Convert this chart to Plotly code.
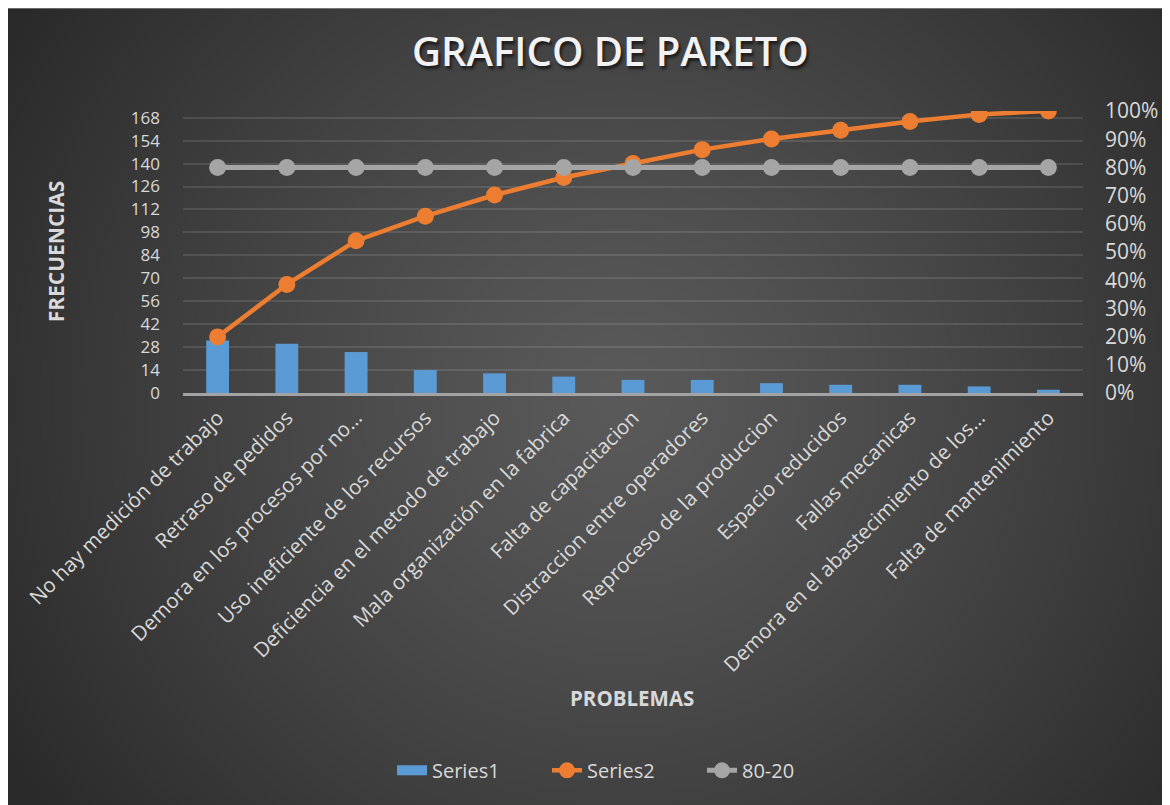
import base64, struct, zlib
import numpy as np
import plotly.graph_objects as go

# ---------------- data ----------------
categories = [
    "No hay medición de trabajo",
    "Retraso de pedidos",
    "Demora en los procesos por no…",
    "Uso ineficiente de los recursos",
    "Deficiencia en el metodo de trabajo",
    "Mala organización en la fabrica",
    "Falta de capacitacion",
    "Distraccion entre operadores",
    "Reproceso de la produccion",
    "Espacio reducidos",
    "Fallas mecanicas",
    "Demora en el abastecimiento de los…",
    "Falta de mantenimiento",
]
frequencies = [32, 30, 25, 14, 12, 10, 8, 8, 6, 5, 5, 4, 2]
cumulative_pct = [0.199, 0.385, 0.540, 0.627, 0.702, 0.764, 0.814, 0.863,
                  0.901, 0.932, 0.963, 0.988, 1.0]
line_80_20 = [0.8] * 13
left_ticks = [0, 14, 28, 42, 56, 70, 84, 98, 112, 126, 140, 154, 168]

# ---------------- geometry (reference pixel coords, page offset 8) ----------------
OFF = 8
W, H = 1170 - OFF, 805 - OFF
PL, PR, PT, PB = 183, 1083, 110.7, 392.7      # plot area in reference pixels
L = PL - OFF
R = W - (PR - OFF)
T = PT - OFF
B = H - (PB - OFF)
PW, PH = PR - PL, PB - PT


def px_x(p):
    return (p - PL) / PW


def px_y(p):
    return (PB - p) / PH


# ---------------- background gradient image ----------------
yy, xx = np.mgrid[0:H, 0:W].astype(float)
gx, gy = xx + OFF, yy + OFF
d = np.sqrt(((gx - 620) / 720) ** 2 + ((gy - 400) / 700) ** 2)
d = np.clip(d, 0, 1) ** 1.2
val = (90 - 48 * d).astype(np.uint8)


def make_png(arr):
    h, w = arr.shape
    raw = b"".join(b"\x00" + arr[i].tobytes() for i in range(h))

    def chunk(t, data):
        c = struct.pack(">I", len(data)) + t + data
        return c + struct.pack(">I", zlib.crc32(t + data) & 0xFFFFFFFF)

    return (b"\x89PNG\r\n\x1a\n"
            + chunk(b"IHDR", struct.pack(">IIBBBBB", w, h, 8, 0, 0, 0, 0))
            + chunk(b"IDAT", zlib.compress(raw, 9))
            + chunk(b"IEND", b""))


bg_uri = "data:image/png;base64," + base64.b64encode(make_png(val)).decode()

FONT = "Open Sans"
TXT = "#d9d9d9"
BLUE = "#5b9bd5"
ORANGE = "#ed7d31"
GRAY = "#a5a5a5"

fig = go.Figure()
fig.add_trace(go.Bar(
    x=categories, y=frequencies, name="Series1", showlegend=False,
    marker=dict(color=BLUE, line=dict(width=0)),
))
# legend stand-in for the bar series (wide rectangle swatch)
fig.add_trace(go.Scatter(
    x=[None], y=[None], name="Series1", mode="lines",
    line=dict(color=BLUE, width=15),
))
fig.add_trace(go.Scatter(
    x=categories, y=cumulative_pct, name="Series2", yaxis="y2",
    mode="lines+markers",
    line=dict(color=ORANGE, width=4.5),
    marker=dict(color=ORANGE, size=17),
))
fig.add_trace(go.Scatter(
    x=categories, y=line_80_20, name="80-20", yaxis="y2",
    mode="lines+markers",
    line=dict(color=GRAY, width=5),
    marker=dict(color=GRAY, size=17),
))

fig.update_layout(
    width=W, height=H,
    margin=dict(l=L, r=R, t=T, b=B, pad=0, autoexpand=False),
    paper_bgcolor="white",
    plot_bgcolor="rgba(0,0,0,0)",
    bargap=0.67,
    font=dict(family=FONT, color=TXT),
    showlegend=True,
    legend=dict(
        orientation="h", x=px_x(392), y=px_y(770),
        xanchor="left", yanchor="middle",
        font=dict(size=20, color=TXT, family=FONT),
        bgcolor="rgba(0,0,0,0)", tracegroupgap=0,
        entrywidth=110, entrywidthmode="pixels",
    ),
    xaxis=dict(
        type="category", range=[-0.5, 12.5], automargin=False,
        tickangle=-45, tickfont=dict(size=20.5, color=TXT, family=FONT),
        showgrid=False, showline=True, linecolor="#a3a3a3", linewidth=2.5,
        ticks="", ticklabelstandoff=2, fixedrange=True,
    ),
    yaxis=dict(
        range=[0, 172.1], tickmode="array", tickvals=left_ticks, automargin=False,
        tickfont=dict(size=17, color=TXT, family=FONT),
        showgrid=True, gridcolor="rgba(255,255,255,0.11)", gridwidth=1.5,
        zeroline=False, showline=False, ticks="", ticklabelstandoff=22,
    ),
    yaxis2=dict(
        overlaying="y", side="right", range=[0, 1], dtick=0.1, tickformat=".0%",
        automargin=False,
        tickfont=dict(size=21, color=TXT, family=FONT),
        showgrid=False, zeroline=False, showline=False, ticks="",
        ticklabelstandoff=21,
    ),
    images=[dict(
        source=bg_uri, xref="paper", yref="paper",
        x=px_x(OFF), y=px_y(OFF), sizex=W / PW, sizey=H / PH,
        xanchor="left", yanchor="top", sizing="stretch", layer="below",
    )],
    annotations=[
        dict(text="GRAFICO DE PARETO", xref="paper", yref="paper",
             x=px_x(610), y=px_y(50), xanchor="center", yanchor="middle",
             showarrow=False,
             font=dict(size=40, color="#f2f2f2", family=FONT, weight=600,
                       shadow="2px 3px 3px rgba(0,0,0,0.6)")),
        dict(text="<b>FRECUENCIAS</b>", xref="paper", yref="paper",
             x=px_x(56), y=px_y(251), xanchor="center", yanchor="middle",
             textangle=-90, showarrow=False,
             font=dict(size=21, color=TXT, family=FONT)),
        dict(text="<b>PROBLEMAS</b>", xref="paper", yref="paper",
             x=px_x(632), y=px_y(698), xanchor="center", yanchor="middle",
             showarrow=False,
             font=dict(size=20.5, color=TXT, family=FONT)),
    ],
)

fig.write_html("out.html")
